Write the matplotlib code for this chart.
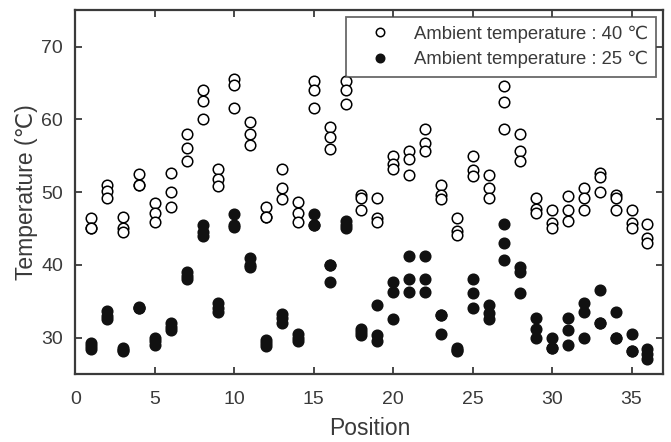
import numpy as np
import matplotlib
matplotlib.use("Agg")
import matplotlib.pyplot as plt

plt.rcParams['font.family'] = ['Liberation Sans', 'DejaVu Sans']

positions = np.arange(1, 37)

# three readings per position, ambient 40 C
temp_40 = [
    [46.5, 45.0, 45.0], [51.0, 50.1, 49.2], [46.6, 45.0, 44.5], [52.5, 51.0, 51.0],
    [48.5, 47.1, 45.9], [52.6, 50.0, 48.0], [58.0, 56.0, 54.2], [64.0, 62.5, 60.0],
    [53.1, 51.8, 50.8], [65.6, 64.7, 61.5], [59.6, 58.0, 56.5], [48.0, 46.6, 46.6],
    [53.1, 50.5, 49.1], [48.6, 47.1, 45.9], [65.2, 64.0, 61.5], [59.0, 57.5, 55.9],
    [65.2, 64.0, 62.1], [49.6, 49.2, 47.6], [49.2, 46.4, 45.9], [55.0, 53.8, 53.1],
    [55.7, 54.5, 52.4], [58.6, 56.7, 55.7], [51.0, 49.6, 49.0], [46.5, 44.6, 44.1],
    [55.0, 53.0, 52.2], [52.4, 50.6, 49.2], [64.6, 62.4, 58.6], [58.0, 55.7, 54.2],
    [49.2, 47.7, 47.1], [47.6, 45.7, 45.1], [49.5, 47.6, 46.0], [50.6, 49.2, 47.6],
    [52.6, 52.1, 50.0], [49.6, 49.2, 47.6], [47.6, 45.7, 45.1], [45.6, 43.7, 43.0],
]

# three readings per position, ambient 25 C
temp_25 = [
    [29.2, 28.8, 28.4], [33.6, 33.0, 32.5], [28.6, 28.3, 28.1], [34.2, 34.1, 34.0],
    [30.0, 29.5, 29.0], [32.0, 31.5, 31.1], [39.0, 38.5, 38.0], [45.5, 44.5, 44.0],
    [34.7, 34.0, 33.5], [47.0, 45.5, 45.2], [41.0, 40.0, 39.7], [29.6, 29.2, 28.9],
    [33.3, 32.7, 32.0], [30.5, 30.0, 29.5], [47.0, 45.5, 45.5], [40.0, 40.0, 37.6],
    [46.0, 45.5, 45.0], [31.2, 30.8, 30.3], [34.5, 30.4, 29.5], [37.6, 36.2, 32.6],
    [41.2, 38.0, 36.2], [41.2, 38.0, 36.2], [33.1, 33.1, 30.5], [28.6, 28.3, 28.1],
    [38.0, 36.1, 34.1], [34.5, 33.4, 32.6], [45.6, 43.0, 40.6], [39.7, 39.0, 36.1],
    [32.7, 31.2, 30.0], [30.0, 28.6, 28.6], [32.7, 31.1, 29.0], [34.8, 33.5, 30.0],
    [36.5, 32.0, 32.0], [33.5, 30.0, 30.0], [30.5, 28.1, 28.1], [28.4, 27.7, 27.0],
]

x_ticks = [0, 5, 10, 15, 20, 25, 30, 35]
y_ticks = [30, 40, 50, 60, 70]

dark = '#3a3a3a'

fig = plt.figure(figsize=(6.71, 4.42), dpi=100)
ax = fig.add_axes([0.1125, 0.154, 0.876, 0.823])

x40 = np.repeat(positions, 3)
y40 = np.array(temp_40).ravel()
x25 = np.repeat(positions, 3)
y25 = np.array(temp_25).ravel()

ax.plot(x40, y40, 'o', ls='none', ms=7.6, mfc='white', mec='black', mew=1.1,
        label='Ambient temperature : 40 ℃')
ax.plot(x25, y25, 'o', ls='none', ms=7.6, mfc='#111111', mec='#111111', mew=1.1,
        label='Ambient temperature : 25 ℃')

ax.set_xlim(0, 37)
ax.set_ylim(25, 75)
ax.set_xticks(x_ticks)
ax.set_yticks(y_ticks)
ax.tick_params(direction='in', length=5, width=1.3, top=True, right=True,
               labelsize=14, colors=dark)
ax.tick_params(axis='x', pad=12)
ax.tick_params(axis='y', pad=9)
for s in ax.spines.values():
    s.set_linewidth(1.6)
    s.set_color(dark)

ax.set_xlabel('Position', fontsize=16.5, color=dark, labelpad=7)
ax.set_ylabel('Temperature (℃)', fontsize=16.5, color=dark, labelpad=2)

# legend box: right edge ~656 px, top ~17 px
leg = ax.legend(loc='upper right', bbox_to_anchor=(656 / 671, 1 - 17 / 442),
                bbox_transform=fig.transFigure, fontsize=13.3, frameon=True,
                fancybox=False, edgecolor='#444444', borderaxespad=0,
                handlelength=2.8, handletextpad=0.4, labelcolor=dark,
                markerscale=0.8, borderpad=0.45, labelspacing=0.45)
leg.get_frame().set_linewidth(1.3)

fig.savefig('out.png', dpi=100)
